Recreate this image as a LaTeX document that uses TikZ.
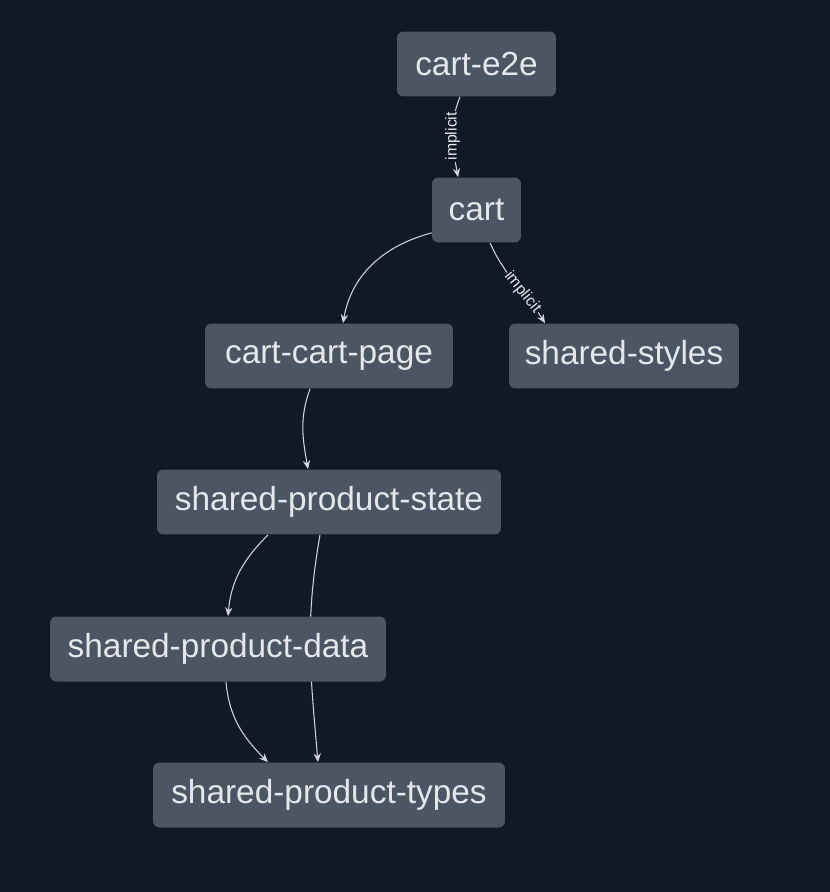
\documentclass[tikz,border=0pt]{standalone}
\usepackage{fontspec}
\setmainfont{Liberation Sans}
\usepackage{xcolor}
\usepackage{tikz}
\usetikzlibrary{arrows.meta, positioning}

\definecolor{nenToi}{HTML}{111827}
\definecolor{hopXam}{HTML}{4B5563}
\definecolor{chuSang}{HTML}{E5E7EB}
\definecolor{duongNoi}{HTML}{D1D5DB}

\pgfdeclarelayer{lopNen}
\pgfdeclarelayer{lopCanh}
\pgfsetlayers{lopNen,lopCanh,main}

\begin{document}
\begin{tikzpicture}[x=0.02cm, y=-0.02cm, >={Stealth[length=5pt,width=4.2pt]},
    hop/.style={fill=hopXam, rounded corners=3.6pt, text=chuSang,
        font=\fontsize{19}{22}\selectfont, minimum height=1.3cm, inner sep=0pt},
    noi/.style={->, draw=duongNoi, line width=0.6pt},
    nhan/.style={font=\fontsize{9}{10}\selectfont, text=chuSang, fill=nenToi,
        inner sep=0.6pt}]

    % =================================================================
    % 1. NEN VA KHUNG HINH
    % =================================================================
    \begin{pgfonlayer}{lopNen}
        \fill[nenToi] (0,0) rectangle (830,892);
    \end{pgfonlayer}

    % =================================================================
    % 2. CAC HOP (GOI)
    % =================================================================
    \node[hop, minimum width=3.18cm] (CartE2e) at (476.5,64) {cart-e2e};
    \node[hop, minimum width=1.78cm] (Cart) at (476.5,210) {cart};
    \node[hop, minimum width=4.96cm] (CartPage) at (329,356) {cart-cart-page};
    \node[hop, minimum width=4.60cm] (Styles) at (624,356) {shared-styles};
    \node[hop, minimum width=6.88cm] (State) at (329,502) {shared-product-state};
    \node[hop, minimum width=6.72cm] (Data) at (218,649) {shared-product-data};
    \node[hop, minimum width=7.04cm] (Types) at (329,795) {shared-product-types};

    % =================================================================
    % 3. CAC DUONG NOI (VE PHIA SAU CAC HOP)
    % =================================================================
    \begin{pgfonlayer}{lopCanh}
        \draw[noi] ([xshift=-0.33cm]CartE2e.south) to[out=-112, in=100]
            node[nhan, rotate=90] {implicit} ([xshift=-0.37cm]Cart.north);
        \draw[noi] ([yshift=0.2cm]Cart.south west) to[out=195, in=80]
            ([xshift=0.28cm]CartPage.north);
        \draw[noi] ([xshift=0.27cm]Cart.south) to[out=-66, in=122]
            node[nhan, sloped, pos=0.62] {implicit} ([xshift=-1.58cm]Styles.north);
        \draw[noi] ([xshift=-0.38cm]CartPage.south) to[out=-110, in=100]
            ([xshift=-0.42cm]State.north);
        \draw[noi] ([xshift=-1.22cm]State.south) to[out=-135, in=85]
            ([xshift=0.2cm]Data.north);
        \draw[noi] ([xshift=-0.18cm]State.south) to[out=-100, in=95]
            ([xshift=-0.22cm]Types.north);
        \draw[noi] ([xshift=0.16cm]Data.south) to[out=-85, in=135]
            ([xshift=-1.22cm]Types.north);
    \end{pgfonlayer}

\end{tikzpicture}
\end{document}
